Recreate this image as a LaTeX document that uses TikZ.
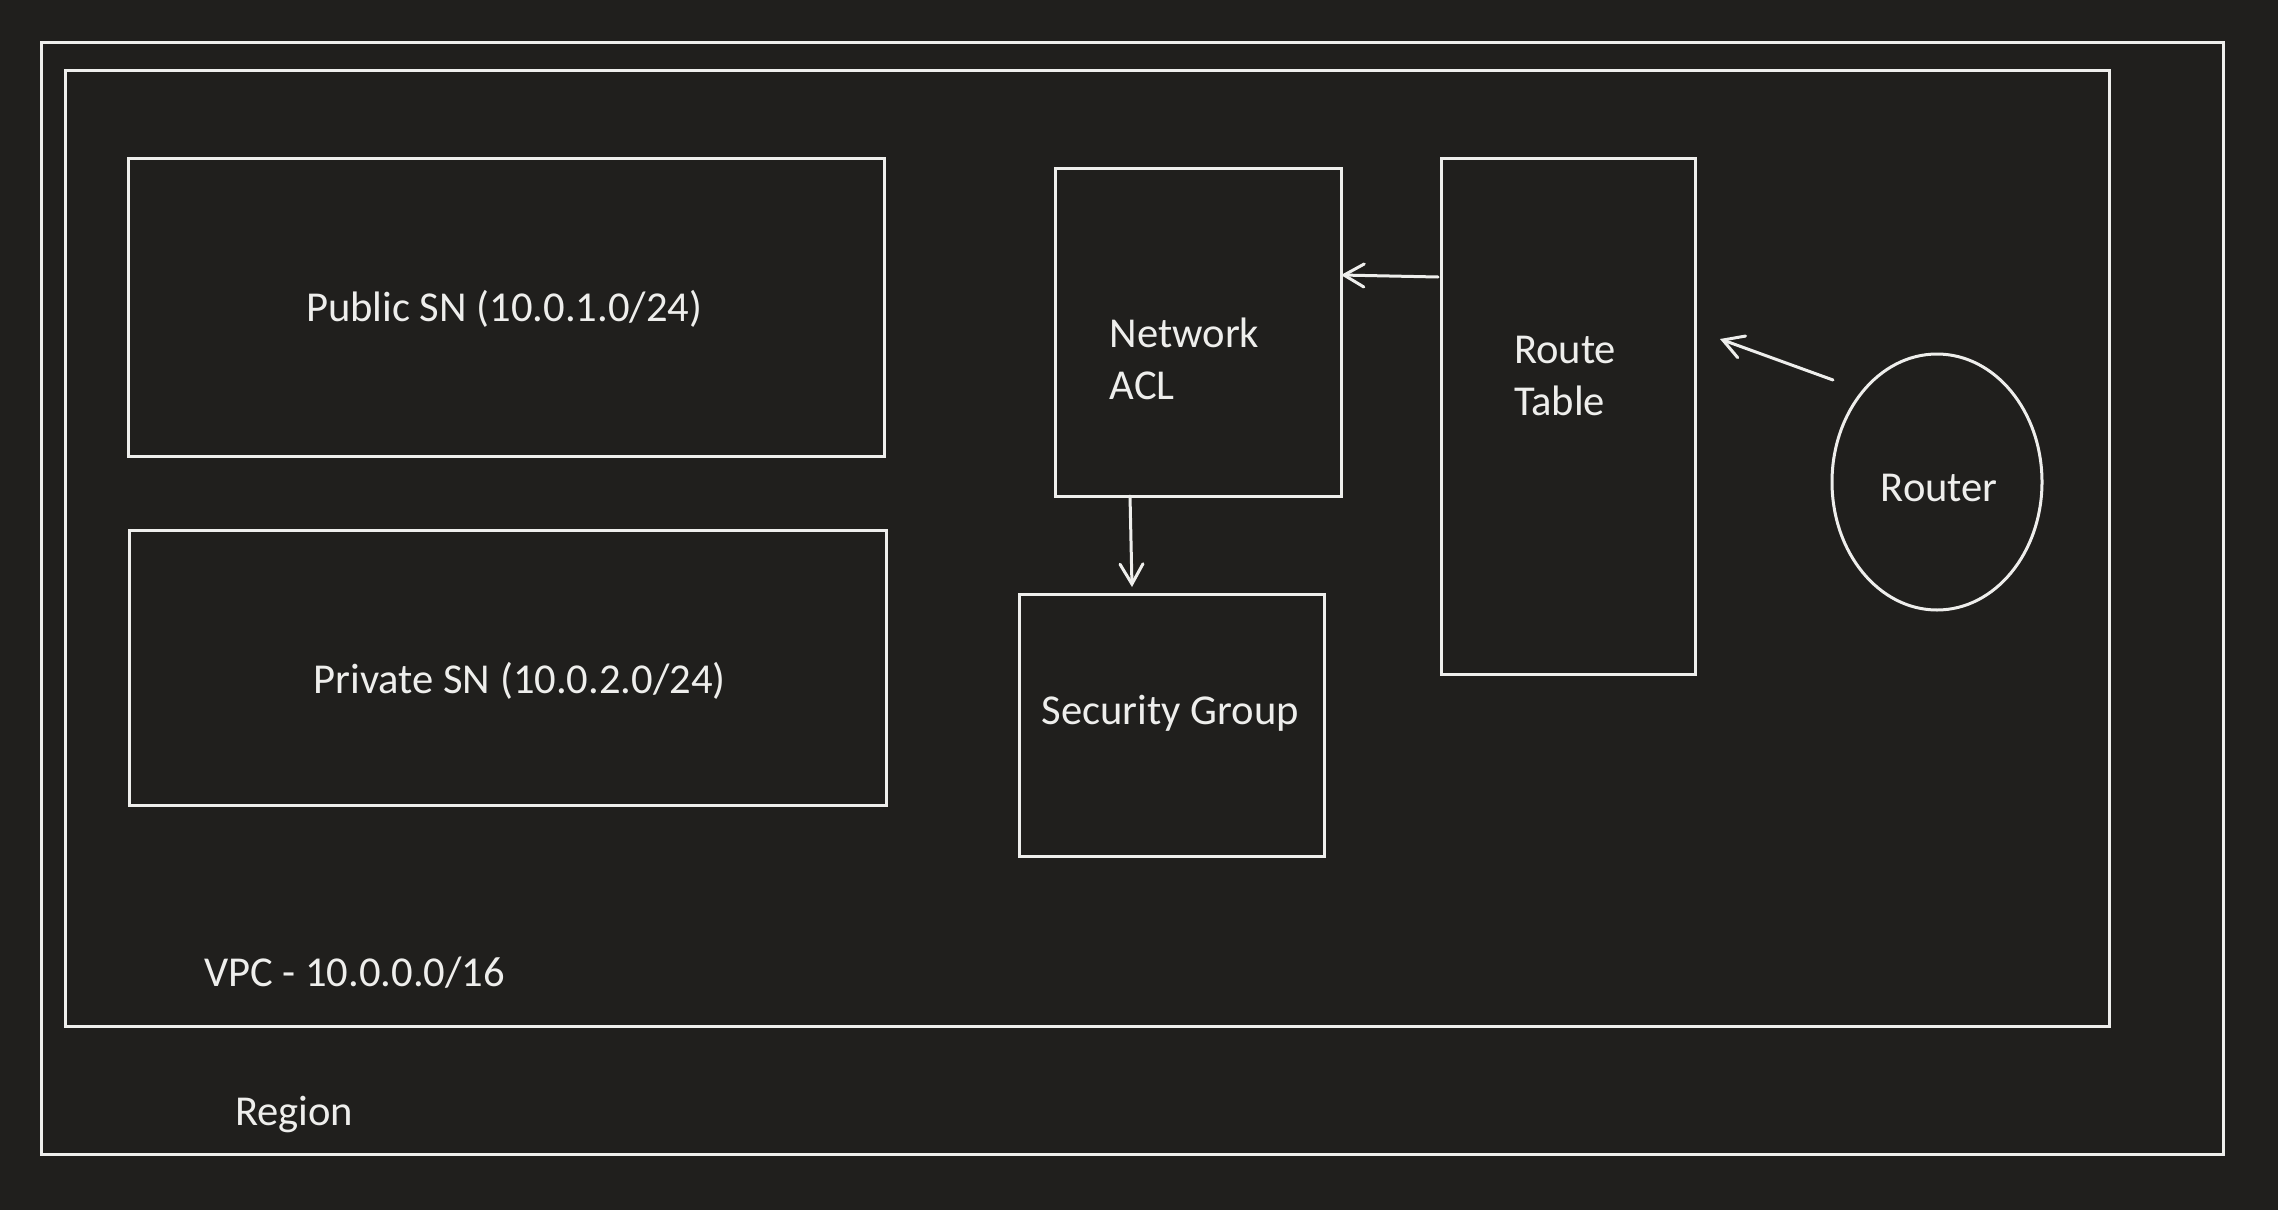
\documentclass[tikz,border=0pt]{standalone}
\usepackage{fontspec}
\setmainfont{Carlito}
\usetikzlibrary{shapes.geometric,arrows.meta}
\definecolor{bgc}{HTML}{201F1D}
\definecolor{fgc}{HTML}{EEEEEC}
\begin{document}
\begin{tikzpicture}[x=1pt,y=-1pt,
  box/.style={draw=fgc,line width=3pt,rectangle,inner sep=0pt,outer sep=0pt},
  lbl/.style={text=fgc,inner sep=0pt,outer sep=0pt,anchor=base west,font=\fontsize{42.6}{52}\selectfont},
  arr/.style={draw=fgc,line width=3pt,line cap=round,-{Straight Barb[length=20pt,width=23pt,line cap=round]}}]
\fill[bgc] (0,0) rectangle (2278,1210);
\useasboundingbox (0,0) rectangle (2278,1210);
% containers
\node[box,minimum width=2181.5pt,minimum height=1112pt] (region) at (1132.25,598) {};
\node[box,minimum width=2044pt,minimum height=956pt] (vpc) at (1087.5,548) {};
% subnets
\node[box,minimum width=756pt,minimum height=298pt] (pub) at (506,307) {};
\node[box,minimum width=756.5pt,minimum height=275pt] (priv) at (507.75,667.5) {};
% components
\node[box,minimum width=286pt,minimum height=328pt] (acl) at (1198,332) {};
\node[box,minimum width=305pt,minimum height=262pt] (sg) at (1171.5,725) {};
\node[box,minimum width=254.5pt,minimum height=516pt] (rt) at (1568.25,416) {};
\node[draw=fgc,line width=3pt,ellipse,inner sep=0pt,outer sep=0pt,minimum width=210pt,minimum height=256pt] (router) at (1937,482) {};
% labels
\node[lbl] (pubT) at (306,321.7) {Public SN (10.0.1.0/24)};
\node[lbl] (privT) at (313.5,693.3) {Private SN (10.0.2.0/24)};
\node[lbl] (aclT1) at (1109.7,347.3) {Network};
\node[lbl] (aclT2) at (1109.7,399.3) {ACL};
\node[lbl] (rtT1) at (1514,363.3) {Route};
\node[lbl] (rtT2) at (1514,415.3) {Table};
\node[lbl] (sgT) at (1041.7,724) {Security Group};
\node[lbl] (routerT) at (1880.8,501.7) {Router};
\node[lbl] (vpcT) at (204,986.7) {VPC - 10.0.0.0/16};
\node[lbl] (regionT) at (235,1125.7) {Region};
% connectors
\draw[arr] ([xshift=-3pt,yshift=-119pt]rt.north west) -- ([yshift=57pt]acl.east);
\draw[arr] ([xshift=-68pt]acl.south) -- ([xshift=-39.5pt,yshift=7pt]sg.north);
\draw[arr] ([xshift=-104pt,yshift=102pt]router.center) -- ([xshift=24.5pt,yshift=77pt]rt.east);
\end{tikzpicture}
\end{document}
